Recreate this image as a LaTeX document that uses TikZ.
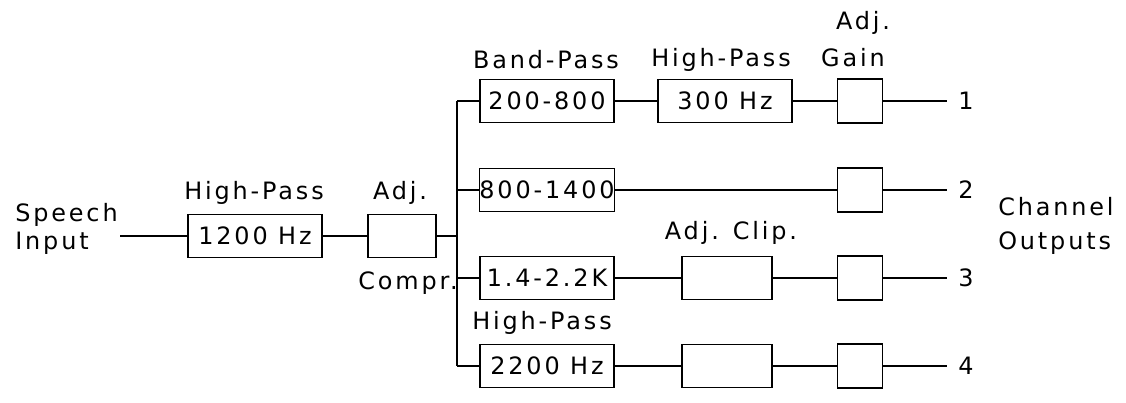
\documentclass[tikz,border=0pt]{standalone}
\usepackage{fontspec}
\setmainfont{DejaVu Sans}[LetterSpace=12]
\usepackage{tikz}
\usetikzlibrary{positioning,calc}

\tikzset{
    filt/.style={draw, line width=0.8pt, minimum width=3.35cm, minimum height=1.08cm, inner sep=0pt},
    gainbox/.style={draw, line width=0.8pt, minimum width=1.12cm, minimum height=1.1cm, inner sep=0pt},
    clipbox/.style={draw, line width=0.8pt, minimum width=2.25cm, minimum height=1.06cm, inner sep=0pt},
    lbl/.style={inner sep=0pt},
    wire/.style={line width=0.8pt}
}

\begin{document}
\begin{tikzpicture}[x=0.025cm, y=-0.025cm, font=\fontsize{17}{20}\selectfont]
    \useasboundingbox (0,0) rectangle (1126,402);

    % input stage
    \node[lbl, anchor=west] (speech) at (15,215) {Speech};
    \node[lbl, anchor=west] (inp) at (15,243) {Input};
    \coordinate (in) at (120,236);
    \node[filt] (hp) at (255,236) {1200 Hz};
    \node[lbl] (hplbl) at (254,193) {High-Pass};
    \node[filt, minimum width=1.7cm] (comp) at (402,236) {};
    \node[lbl] (adjlbl) at (400,193) {Adj.};
    \node[lbl] (complbl) at (408,283) {Compr.};
    \draw[wire] (in) -- (hp);
    \draw[wire] (hp) -- (comp);

    % bus
    \coordinate (btop) at (457,101);
    \coordinate (bbot) at (457,366);
    \coordinate (bmid) at (457,236);
    \draw[wire] (btop) -- (bbot);
    \draw[wire] (comp) -- (bmid);

    % first filters
    \foreach \n/\y/\txt in {1/101/200-800, 2/190/800-1400, 3/278/1.4-2.2K, 4/366/2200 Hz} {
        \node[filt] (f\n) at (547,\y) {\txt};
        \draw[wire] (btop |- f\n) -- (f\n);
    }
    \node[lbl] (bplbl) at (546,60) {Band-Pass};
    \node[lbl] (hplbl4) at (542,323) {High-Pass};

    % second stage
    \node[filt] (s1) at (725,101) {300 Hz};
    \node[lbl] (hplbl1) at (721,60) {High-Pass};
    \node[clipbox] (s3) at (727,278) {};
    \node[lbl] (cliplbl) at (731,233) {Adj. Clip.};
    \node[clipbox] (s4) at (727,366) {};
    \draw[wire] (f1) -- (s1);
    \draw[wire] (f3) -- (s3);
    \draw[wire] (f4) -- (s4);

    % gain and outputs
    \foreach \n in {1,...,4} {
        \node[gainbox] (g\n) at (860,0 |- f\n) {};
        \coordinate (o\n) at (947,0 |- f\n);
        \node[lbl] (num\n) at (966,0 |- f\n) {\n};
        \draw[wire] (g\n) -- (o\n);
    }
    \draw[wire] (s1) -- (g1);
    \draw[wire] (f2) -- (g2);
    \draw[wire] (s3) -- (g3);
    \draw[wire] (s4) -- (g4);
    \node[lbl] (adjg) at (863,23) {Adj.};
    \node[lbl] (gainlbl) at (853,58) {Gain};

    \node[lbl, anchor=west] (chan) at (998,207) {Channel};
    \node[lbl, anchor=west] (outs) at (998,243) {Outputs};
\end{tikzpicture}
\end{document}
